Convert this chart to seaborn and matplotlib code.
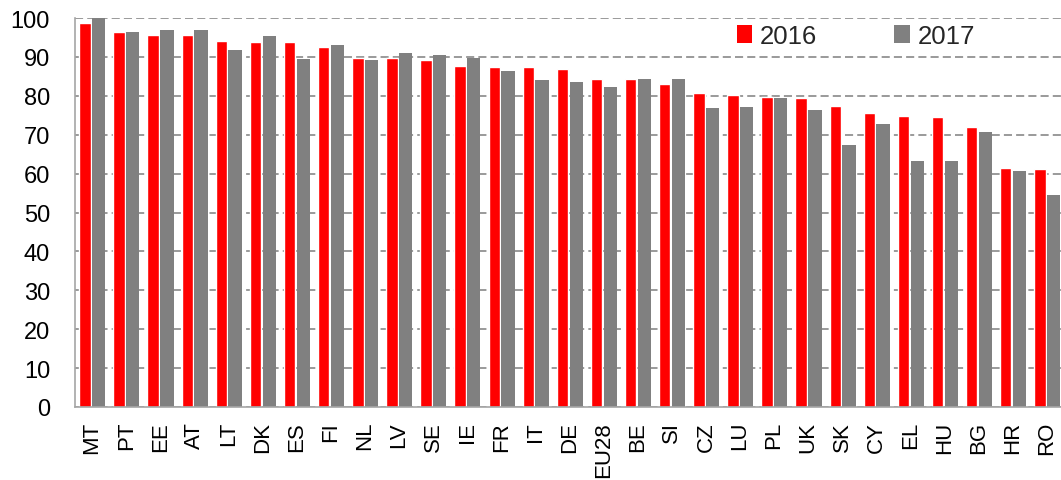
import matplotlib
matplotlib.use("Agg")
import matplotlib.pyplot as plt
from matplotlib.patches import Patch
import pandas as pd
import seaborn as sns

countries = ["MT", "PT", "EE", "AT", "LT", "DK", "ES", "FI", "NL", "LV",
             "SE", "IE", "FR", "IT", "DE", "EU28", "BE", "SI", "CZ", "LU",
             "PL", "UK", "SK", "CY", "EL", "HU", "BG", "HR", "RO"]
values_2016 = [98.7, 96.4, 95.7, 95.6, 94.1, 93.9, 93.9, 92.5, 89.7, 89.6,
               89.1, 87.6, 87.4, 87.3, 86.8, 84.4, 84.2, 83.0, 80.7, 80.1,
               79.8, 79.4, 77.3, 75.5, 74.9, 74.6, 72.1, 61.5, 61.2]
values_2017 = [100.0, 96.3, 96.9, 96.9, 91.9, 95.3, 89.4, 93.1, 89.3, 91.0,
               90.5, 89.6, 86.4, 84.0, 83.6, 82.3, 84.2, 84.2, 76.9, 77.1,
               79.4, 76.4, 67.3, 72.8, 63.3, 63.3, 70.7, 60.7, 54.6]
years = ["2016", "2017"]
colors = ["#FF0000", "#808080"]
y_ticks = list(range(0, 101, 10))

df = pd.DataFrame({
    "country": countries * 2,
    "value": values_2016 + values_2017,
    "year": [years[0]] * len(countries) + [years[1]] * len(countries),
})

sns.set_theme(style="white")
plt.rcParams["font.family"] = ["Liberation Sans", "DejaVu Sans"]

W, H = 1061, 481
fig = plt.figure(figsize=(W / 100, H / 100), dpi=100)
ax = fig.add_axes([75 / W, 73 / H, 989 / W, 389 / H])

sns.barplot(data=df, x="country", y="value", hue="year", order=countries,
            hue_order=years, palette=colors, width=0.78, dodge=True,
            saturation=1, ax=ax, legend=False, zorder=2)

# the 2016 bars sit slightly narrower than the 2017 ones
for bar in ax.containers[0]:
    x = bar.get_x()
    bar.set_x(x + 0.015)
    bar.set_width(0.335)
for bar in ax.containers[1]:
    bar.set_linewidth(0)

ax.set_xlim(-0.5, len(countries) - 0.5)
ax.set_ylim(0, 100)
ax.set_yticks(y_ticks)
ax.set_xlabel("")
ax.set_ylabel("")

ax.yaxis.grid(True, color="#7F7F7F", linewidth=1.1, linestyle=(0, (5.3, 2.7)), zorder=0)
ax.xaxis.grid(False)
ax.set_axisbelow(True)

for side in ["top", "right"]:
    ax.spines[side].set_visible(False)
for side in ["left", "bottom"]:
    ax.spines[side].set_color("#A6A6A6")
    ax.spines[side].set_linewidth(1.2)

ax.tick_params(axis="y", length=0, pad=18, labelsize=17, labelcolor="black")
ax.tick_params(axis="x", length=0, pad=10, labelsize=16, labelcolor="black",
               labelrotation=90)

handles = [Patch(facecolor=c, edgecolor="none") for c in colors]
fig.legend(handles, years, loc="center left", bbox_to_anchor=(737 / W, 1 - 37 / H),
           ncol=2, frameon=False, fontsize=18.5, handlelength=0.6, handleheight=0.65,
           handletextpad=0.3, columnspacing=3.0, borderpad=0, borderaxespad=0)

fig.savefig("out.png", dpi=100)
